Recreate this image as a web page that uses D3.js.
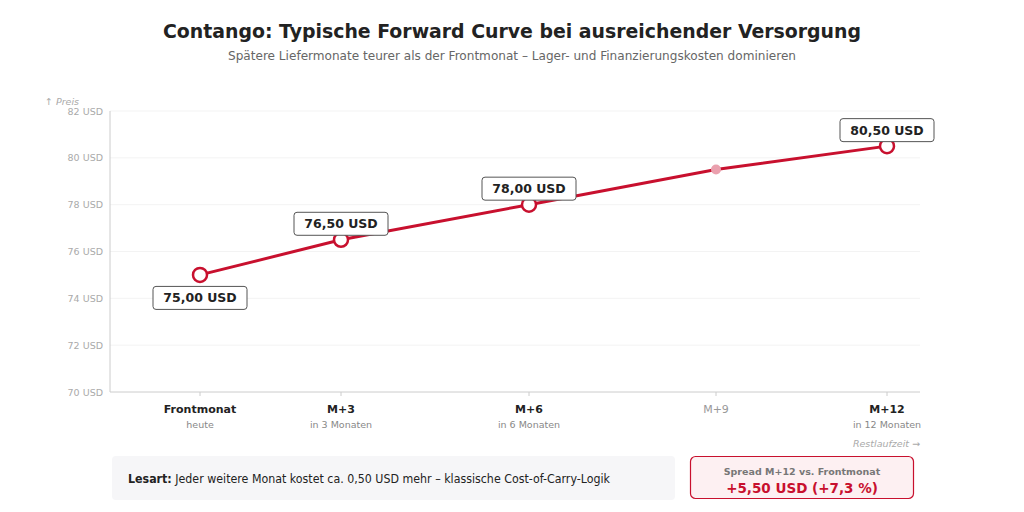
<!DOCTYPE html>
<html>
<head>
<meta charset="utf-8">
<script src="https://cdn.jsdelivr.net/npm/d3@7"></script>
<style>
  body { margin: 0; background: #fff; font-family: "DejaVu Sans", sans-serif; }
</style>
</head>
<body>
<svg width="1024" height="512"></svg>
<script>
// Daten
const months = [0, 3, 6, 9, 12];
const labels = ["Frontmonat", "M+3", "M+6", "M+9", "M+12"];
const subLabels = ["heute", "in 3 Monaten", "in 6 Monaten", "", "in 12 Monaten"];
const prices = [75.0, 76.5, 78.0, 79.5, 80.5];
const highlighted = [true, true, true, false, true];
const yTicks = [70, 72, 74, 76, 78, 80, 82];

const svg = d3.select("svg");
const red = "#c8102e";
const fmt = v => v.toFixed(2).replace(".", ",") + " USD";

const plotL = 110, plotR = 920, plotT = 111, plotB = 392;

// x-Positionen der Liefermonate (wie im Original, nicht gleichabständig)
const x = d3.scaleLinear().domain(months).range([200, 341, 529, 716, 887]);
const y = d3.scaleLinear().domain([70, 82]).range([plotB, plotT]);

/* TITEL */
svg.append("text")
  .attr("x", 512).attr("y", 38)
  .attr("text-anchor", "middle")
  .attr("font-size", 19.5).attr("font-weight", "bold").attr("fill", "#222")
  .attr("textLength", 698).attr("lengthAdjust", "spacingAndGlyphs")
  .text("Contango: Typische Forward Curve bei ausreichender Versorgung");

svg.append("text")
  .attr("x", 512).attr("y", 60)
  .attr("text-anchor", "middle")
  .attr("font-size", 12.2).attr("fill", "#666")
  .attr("textLength", 568).attr("lengthAdjust", "spacingAndGlyphs")
  .text("Spätere Liefermonate teurer als der Frontmonat – Lager- und Finanzierungskosten dominieren");

/* GITTER + Y-ACHSE */
svg.append("g")
  .selectAll("line")
  .data(yTicks.slice(1))
  .enter().append("line")
  .attr("x1", plotL).attr("x2", plotR)
  .attr("y1", d => y(d)).attr("y2", d => y(d))
  .attr("stroke", "#f3f3f3");

svg.append("g")
  .selectAll("text")
  .data(yTicks)
  .enter().append("text")
  .attr("x", 103).attr("y", d => y(d) + 3.5)
  .attr("text-anchor", "end")
  .attr("font-size", 9.5).attr("fill", "#aaa")
  .text(d => d + " USD");

svg.append("line")
  .attr("x1", plotL).attr("x2", plotL).attr("y1", plotT).attr("y2", plotB)
  .attr("stroke", "#ccc");
svg.append("line")
  .attr("x1", plotL).attr("x2", plotR).attr("y1", plotB).attr("y2", plotB)
  .attr("stroke", "#ccc");

svg.append("text")
  .attr("x", 45).attr("y", 105)
  .attr("font-size", 9.5).attr("font-style", "italic").attr("fill", "#aaa")
  .text("↑ Preis");

/* X-ACHSE */
const xg = svg.append("g");
months.forEach((m, i) => {
  xg.append("line")
    .attr("x1", x(m)).attr("x2", x(m)).attr("y1", plotB).attr("y2", plotB + 4)
    .attr("stroke", "#ccc");
  xg.append("text")
    .attr("x", x(m)).attr("y", 413)
    .attr("text-anchor", "middle")
    .attr("font-size", 11)
    .attr("font-weight", highlighted[i] ? "bold" : "normal")
    .attr("fill", highlighted[i] ? "#222" : "#999")
    .text(labels[i]);
  xg.append("text")
    .attr("x", x(m)).attr("y", 428)
    .attr("text-anchor", "middle")
    .attr("font-size", 9.5).attr("fill", "#888")
    .text(subLabels[i]);
});

svg.append("text")
  .attr("x", plotR).attr("y", 447)
  .attr("text-anchor", "end")
  .attr("font-size", 9.5).attr("font-style", "italic").attr("fill", "#aaa")
  .text("Restlaufzeit →");

/* LINIE */
const pts = months.map((m, i) => ({ m, p: prices[i], hl: highlighted[i] }));
svg.append("path")
  .datum(pts)
  .attr("fill", "none")
  .attr("stroke", red)
  .attr("stroke-width", 3)
  .attr("d", d3.line().x(d => x(d.m)).y(d => y(d.p)));

/* PUNKTE */
svg.selectAll(".pt")
  .data(pts)
  .enter().append("circle")
  .attr("class", "pt")
  .attr("cx", d => x(d.m)).attr("cy", d => y(d.p))
  .attr("r", d => d.hl ? 7 : 5)
  .attr("fill", d => d.hl ? "#fff" : "#eaa0ae")
  .attr("stroke", d => d.hl ? red : "none")
  .attr("stroke-width", 2.5);

/* WERTE-LABELS */
const lab = svg.selectAll(".lab")
  .data(pts.filter(d => d.hl))
  .enter().append("g")
  .attr("class", "lab")
  .attr("transform", (d, i) => {
    const dy = i === 0 ? 23 : -16;
    return `translate(${x(d.m)},${y(d.p) + dy})`;
  });

lab.append("rect")
  .attr("x", -47).attr("y", -11.5).attr("width", 94).attr("height", 23)
  .attr("rx", 3)
  .attr("fill", "#fff").attr("stroke", "#555").attr("stroke-width", 1);

lab.append("text")
  .attr("y", 4.5)
  .attr("text-anchor", "middle")
  .attr("font-size", 12.5).attr("font-weight", "bold").attr("fill", "#222")
  .text(d => fmt(d.p));

/* FUSSZEILE */
svg.append("rect")
  .attr("x", 112).attr("y", 456).attr("width", 563).attr("height", 44)
  .attr("rx", 4).attr("fill", "#f6f6f8");

const les = svg.append("text")
  .attr("x", 128).attr("y", 483)
  .attr("font-size", 11.5).attr("fill", "#222")
  .attr("textLength", 482).attr("lengthAdjust", "spacingAndGlyphs");
les.append("tspan").attr("font-weight", "bold").text("Lesart:");
les.append("tspan").text(" Jeder weitere Monat kostet ca. 0,50 USD mehr – klassische Cost-of-Carry-Logik");

svg.append("rect")
  .attr("x", 690.5).attr("y", 456.5).attr("width", 223).attr("height", 42)
  .attr("rx", 5).attr("fill", "#fdf0f2").attr("stroke", red).attr("stroke-width", 1.2);

const spread = prices[4] - prices[0];
const pct = spread / prices[0] * 100;
svg.append("text")
  .attr("x", 802).attr("y", 475)
  .attr("text-anchor", "middle")
  .attr("font-size", 9.5).attr("font-weight", "bold").attr("fill", "#777")
  .text("Spread M+12 vs. Frontmonat");
svg.append("text")
  .attr("x", 802).attr("y", 493)
  .attr("text-anchor", "middle")
  .attr("font-size", 13.5).attr("font-weight", "bold").attr("fill", red)
  .text("+" + spread.toFixed(2).replace(".", ",") + " USD (+" + pct.toFixed(1).replace(".", ",") + " %)");
</script>
</body>
</html>
